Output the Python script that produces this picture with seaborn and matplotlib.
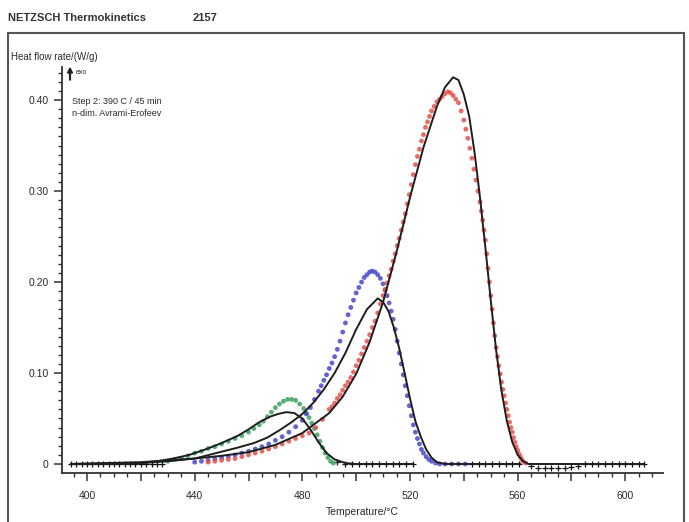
import matplotlib
matplotlib.use("Agg")
import matplotlib.pyplot as plt
import matplotlib.ticker as mticker
from matplotlib.patches import Rectangle, FancyArrow
import seaborn as sns

# --- data (temperature in degC, heat flow rate in W/g) ---
# measured points (coloured symbols)
green_T = [430, 432.5, 435, 437.5, 440, 442.5, 445, 447.5, 450, 452.5, 455, 457.5,
           460, 462, 464, 465.5, 467, 468.5, 470, 471.5, 473, 474.5, 476, 477.5,
           479, 480.5, 481.5, 482.5, 483.5, 484.5, 485.5, 486.5, 487.5, 488.5,
           489.5, 490.5, 491.5]
green_v = [0.003, 0.005, 0.006, 0.009, 0.012, 0.014, 0.017, 0.019, 0.022, 0.025,
           0.028, 0.031, 0.035, 0.039, 0.043, 0.047, 0.052, 0.057, 0.062, 0.066,
           0.069, 0.071, 0.071, 0.070, 0.066, 0.061, 0.056, 0.051, 0.045, 0.039,
           0.032, 0.025, 0.018, 0.012, 0.007, 0.003, 0.001]

blue_T = [440, 442.5, 445, 447.5, 450, 452.5, 455, 457.5, 460, 462.5, 465, 467.5,
          470, 472.5, 475, 477.5, 480, 481.5, 483, 484.5, 486, 487, 488, 489, 490,
          491, 492, 493, 494, 495, 496, 497, 498, 499, 500, 501, 502, 503, 504, 505,
          506, 507, 508, 509, 510, 510.75, 511.5, 512.25, 513, 513.75, 514.5,
          515.25, 516, 516.75, 517.5, 518.25, 519, 519.75, 520.5, 521.25, 522,
          522.75, 523.5, 524.25, 525, 526, 527, 528, 529.5, 531, 533, 535.5, 538,
          540.5]
blue_v = [0.002, 0.003, 0.004, 0.0055, 0.007, 0.0085, 0.010, 0.012, 0.014, 0.0165,
          0.019, 0.022, 0.026, 0.030, 0.035, 0.041, 0.048, 0.055, 0.062, 0.071,
          0.080, 0.086, 0.092, 0.098, 0.105, 0.111, 0.118, 0.126, 0.135, 0.145,
          0.155, 0.164, 0.172, 0.180, 0.188, 0.194, 0.200, 0.205, 0.208, 0.211,
          0.212, 0.211, 0.208, 0.204, 0.198, 0.191, 0.185, 0.177, 0.168, 0.159,
          0.148, 0.135, 0.122, 0.110, 0.098, 0.086, 0.075, 0.064, 0.053, 0.043,
          0.035, 0.028, 0.022, 0.016, 0.012, 0.008, 0.005, 0.003, 0.001, 0, 0, 0,
          0, 0]

red_T = [445, 447.5, 450, 452.5, 455, 457.5, 460, 462.5, 465, 467.5, 470, 472.5,
         475, 477.5, 480, 482.5, 485, 487.5, 490, 491, 492, 493, 494, 495, 496, 497,
         498, 499, 500, 501, 502, 503, 504, 505, 506, 507, 508, 509, 510, 510.75,
         511.5, 512.25, 513, 513.75, 514.5, 515.25, 516, 516.75, 517.5, 518.25, 519,
         519.75, 520.5, 521.25, 522, 522.75, 523.5, 524.25, 525, 525.75, 526.5,
         527.25, 528, 529, 530, 531, 532, 533, 534, 535, 536, 537, 538, 539, 540,
         540.75, 541.5, 542.25, 543, 543.75, 544.5, 545.25, 546, 546.5, 547, 547.5,
         548, 548.5, 549, 549.5, 550, 550.5, 551, 551.5, 552, 552.5, 553, 553.5,
         554, 554.5, 555, 555.5, 556, 556.5, 557, 557.5, 558, 558.5, 559, 559.5,
         560, 560.5, 561, 561.5, 562, 563]
red_v = [0.002, 0.003, 0.004, 0.005, 0.006, 0.008, 0.010, 0.012, 0.014, 0.0165,
         0.019, 0.022, 0.025, 0.028, 0.031, 0.034, 0.040, 0.049, 0.060, 0.063,
         0.067, 0.072, 0.076, 0.081, 0.086, 0.090, 0.095, 0.101, 0.108, 0.114,
         0.121, 0.128, 0.135, 0.142, 0.150, 0.157, 0.166, 0.176, 0.185, 0.192,
         0.199, 0.207, 0.214, 0.223, 0.231, 0.240, 0.248, 0.257, 0.266, 0.275,
         0.286, 0.296, 0.307, 0.318, 0.329, 0.338, 0.346, 0.355, 0.362, 0.370,
         0.376, 0.382, 0.388, 0.393, 0.398, 0.401, 0.404, 0.407, 0.409, 0.408,
         0.405, 0.401, 0.397, 0.388, 0.378, 0.368, 0.358, 0.347, 0.336, 0.324,
         0.312, 0.300, 0.288, 0.278, 0.268, 0.257, 0.246, 0.231, 0.215, 0.200,
         0.185, 0.170, 0.155, 0.141, 0.128, 0.118, 0.108, 0.099, 0.090, 0.082,
         0.075, 0.067, 0.060, 0.053, 0.046, 0.040, 0.035, 0.029, 0.024, 0.019,
         0.015, 0.011, 0.008, 0.005, 0.003, 0.001]

# fitted model curves (black lines)
green_fit_T = [394, 410, 420, 426, 432, 438, 444, 450, 456, 460, 464, 468, 471, 474,
               477, 480, 483, 486, 489, 492, 496, 500, 521]
green_fit_v = [0, 0, 0.001, 0.003, 0.006, 0.010, 0.016, 0.023, 0.031, 0.038, 0.046,
               0.052, 0.055, 0.057, 0.056, 0.050, 0.038, 0.024, 0.012, 0.005, 0.001,
               0, 0]
blue_fit_T = [394, 420, 430, 440, 448, 456, 462, 467, 472, 476, 480, 484, 488, 492,
              496, 500, 504, 508, 510, 512, 514, 516, 518, 520, 522, 524, 526, 528,
              530, 533, 561]
blue_fit_v = [0, 0.001, 0.003, 0.006, 0.012, 0.018, 0.023, 0.029, 0.038, 0.046, 0.055,
              0.067, 0.082, 0.100, 0.122, 0.148, 0.170, 0.182, 0.178, 0.168, 0.150,
              0.127, 0.100, 0.072, 0.047, 0.030, 0.016, 0.007, 0.002, 0, 0]
red_fit_T = [394, 420, 440, 450, 460, 470, 480, 490, 495, 500, 505, 510, 515, 520,
             525, 530, 533, 536, 538, 540, 542, 544, 546, 548, 550, 552, 554, 556,
             558, 560, 562, 564, 607]
red_fit_v = [0, 0.002, 0.006, 0.009, 0.013, 0.021, 0.034, 0.056, 0.074, 0.099, 0.134,
             0.178, 0.233, 0.293, 0.348, 0.393, 0.414, 0.425, 0.422, 0.406, 0.382,
             0.342, 0.293, 0.238, 0.180, 0.125, 0.080, 0.047, 0.024, 0.010, 0.003,
             0, 0]

# black baseline points (signal not yet off / already back to zero)
base_T = [394, 396, 398, 400, 402, 404, 406, 408, 410, 412, 414, 416, 418, 420, 422,
          424, 426, 428, 493, 496, 498.5, 501, 503.5, 506, 508.5, 511, 513.5, 516,
          518.5, 521, 543, 545.5, 548, 550.5, 553, 555.5, 558, 560.5, 565, 567.5,
          570, 572.5, 575, 577.5, 580, 582.5, 585, 587.5, 590, 592.5, 595, 597.5,
          600, 602.5, 605, 607]
base_v = [0, 0, 0, 0, 0, 0, 0, 0, 0, 0, 0, 0, 0, 0, 0,
          0, 0, 0, 0.002, 0, 0, 0, 0, 0, 0, 0, 0, 0,
          0, 0, 0, 0, 0, 0, 0, 0, 0, 0, -0.002, -0.004,
          -0.004, -0.004, -0.004, -0.004, -0.003, -0.002, 0, 0, 0, 0, 0, 0,
          0, 0, 0, 0]

RED, BLUE, GREEN = "#e5524a", "#4848cc", "#3ca35e"
INK = "#2a2a2a"

sns.set_style("ticks")
plt.rcParams["font.family"] = ["Liberation Sans", "DejaVu Sans"]

W, H = 689, 522
fig = plt.figure(figsize=(W / 100, H / 100), dpi=100)
ax = fig.add_axes([62 / W, 49 / H, 601 / W, 406 / H])

sns.scatterplot(x=base_T, y=base_v, ax=ax, marker="+", s=16, color="#111111",
                linewidth=0.9, zorder=2)
for T, v, c in [(green_T, green_v, GREEN), (blue_T, blue_v, BLUE), (red_T, red_v, RED)]:
    sns.scatterplot(x=T, y=v, ax=ax, color=c, s=12, edgecolor="none", alpha=0.85,
                    zorder=2)
for T, v in [(green_fit_T, green_fit_v), (blue_fit_T, blue_fit_v), (red_fit_T, red_fit_v)]:
    sns.lineplot(x=T, y=v, ax=ax, color="#1e1e1e", lw=1.4, sort=False, zorder=3)

ax.set_xlim(390.7, 614)
ax.set_ylim(-0.0099, 0.4363)
sns.despine(ax=ax)
for s in ("left", "bottom"):
    ax.spines[s].set_color("#333333")
    ax.spines[s].set_linewidth(1.3)

ax.xaxis.set_major_locator(mticker.MultipleLocator(20))
ax.xaxis.set_minor_locator(mticker.MultipleLocator(5))
ax.xaxis.set_major_formatter(mticker.FuncFormatter(
    lambda x, p: f"{x:.0f}" if round(x) % 40 == 0 else ""))
ax.set_yticks([0, 0.1, 0.2, 0.3, 0.4])
ax.set_yticklabels(["0", "0.10", "0.20", "0.30", "0.40"])
ax.yaxis.set_minor_locator(mticker.MultipleLocator(0.01))
ax.tick_params(axis="both", which="major", length=6, width=1.1, color="#333333",
               labelsize=7.5, labelcolor=INK)
ax.tick_params(axis="both", which="minor", length=3, width=1.0, color="#333333")
ax.tick_params(axis="x", pad=7)
ax.set_xlabel("Temperature/\u00b0C", fontsize=7.5, color=INK, labelpad=4)
ax.set_ylabel("")

# outer frame and header texts
fig.patches.append(Rectangle((8 / W, -0.02), 676 / W, (522 - 33) / H + 0.02,
                             transform=fig.transFigure, fill=False,
                             edgecolor="#555555", lw=1.5))
fig.text(8 / W, 1 - 18 / H, "NETZSCH Thermokinetics", fontsize=8, fontweight="bold",
         color="#333333", va="center")
fig.text(193 / W, 1 - 18 / H, "2157", fontsize=8, fontweight="bold",
         color="#333333", va="center")
fig.text(11 / W, 1 - 57 / H, "Heat flow rate/(W/g)", fontsize=7, color=INK,
         va="center")
fig.patches.append(FancyArrow(
    70 / W, 1 - 80 / H, 0, 12 / H, width=0.6 / H, head_width=5 / W, head_length=5 / H,
    length_includes_head=True, transform=fig.transFigure, color="#222222"))
fig.text(76 / W, 1 - 73 / H, "exo", fontsize=5, color=INK, va="center")
fig.text(72 / W, 1 - 102 / H, "Step 2: 390 C / 45 min", fontsize=6.5,
         color=INK, va="center")
fig.text(72 / W, 1 - 113 / H, "n-dim. Avrami-Erofeev", fontsize=6.5,
         color=INK, va="center")

fig.savefig("out.png", dpi=100, facecolor="white")
